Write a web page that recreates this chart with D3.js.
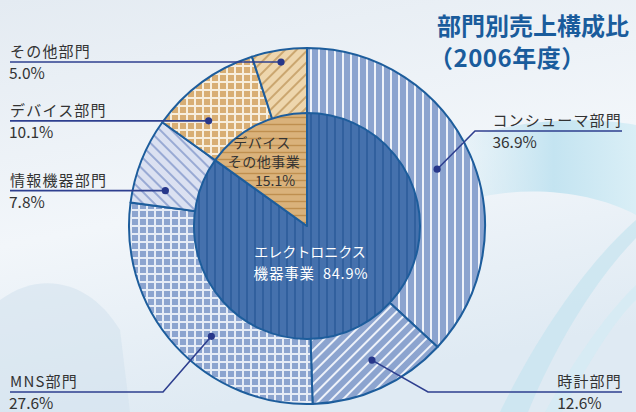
<!DOCTYPE html>
<html>
<head>
<meta charset="utf-8">
<script src="https://cdn.jsdelivr.net/npm/d3@7"></script>
<style>
  body { margin: 0; background: #eef3f8; }
  svg { display: block; font-family: "Noto Sans CJK JP", "Noto Sans", sans-serif; }
</style>
</head>
<body>
<script>
// 部門別売上構成比 (2006年度)

var innerNames = ["エレクトロニクス機器事業", "デバイスその他事業"];
var innerValues = [84.9, 15.1];

var outerNames = ["コンシューマ部門", "時計部門", "MNS部門", "情報機器部門", "デバイス部門", "その他部門"];
var outerValues = [36.9, 12.6, 27.6, 7.8, 10.1, 5.0];

var width = 636, height = 412;
var cx = 307, cy = 226, rIn = 113, rOut = 178;

var svg = d3.select("body").append("svg")
  .attr("width", width)
  .attr("height", height);

var defs = svg.append("defs");

// background
var bg = defs.append("linearGradient").attr("id", "bg")
  .attr("x1", 0).attr("y1", 0).attr("x2", 0.3).attr("y2", 1);
bg.append("stop").attr("offset", "0%").attr("stop-color", "#e4ebf2");
bg.append("stop").attr("offset", "55%").attr("stop-color", "#f2f6fa");
bg.append("stop").attr("offset", "100%").attr("stop-color", "#dfeaf3");
svg.append("rect").attr("width", width).attr("height", height).attr("fill", "url(#bg)");

var sw = defs.append("linearGradient").attr("id", "sw")
  .attr("x1", 0).attr("y1", 0).attr("x2", 1).attr("y2", 0);
sw.append("stop").attr("offset", "0%").attr("stop-color", "#cfeaf4").attr("stop-opacity", 0);
sw.append("stop").attr("offset", "60%").attr("stop-color", "#bfe2f0");
sw.append("stop").attr("offset", "100%").attr("stop-color", "#d7eef6");
svg.append("path")
  .attr("d", "M430,150 C500,120 580,115 636,125 L636,215 C590,190 520,185 470,200 Z")
  .attr("fill", "url(#sw)").attr("opacity", 0.9);
svg.append("path")
  .attr("d", "M500,412 C540,330 590,260 636,220 L636,238 C600,275 560,335 528,412 Z")
  .attr("fill", "#c6e4f0").attr("opacity", 0.7);
svg.append("path")
  .attr("d", "M545,412 C580,350 610,310 636,285 L636,300 C615,320 590,360 562,412 Z")
  .attr("fill", "#d3ebf4").attr("opacity", 0.7);
svg.append("path")
  .attr("d", "M0,300 C40,270 90,280 120,330 L130,412 L0,412 Z")
  .attr("fill", "#d4e3ef").attr("opacity", 0.6);

// hatch patterns
function stripes(id, base, line, lw, angle, gap) {
  var p = defs.append("pattern").attr("id", id)
    .attr("patternUnits", "userSpaceOnUse")
    .attr("width", gap).attr("height", gap)
    .attr("patternTransform", "rotate(" + angle + ")");
  p.append("rect").attr("width", gap).attr("height", gap).attr("fill", base);
  p.append("line").attr("x1", gap / 2).attr("y1", 0).attr("x2", gap / 2).attr("y2", gap)
    .attr("stroke", line).attr("stroke-width", lw);
}
function grid(id, base, line, lw, gap) {
  var p = defs.append("pattern").attr("id", id)
    .attr("patternUnits", "userSpaceOnUse")
    .attr("width", gap).attr("height", gap);
  p.append("rect").attr("width", gap).attr("height", gap).attr("fill", line);
  p.append("rect").attr("x", lw / 2).attr("y", lw / 2)
    .attr("width", gap - lw).attr("height", gap - lw).attr("fill", base);
}

stripes("pElec", "#4571ad", "#2c5c9a", 1.6, 0, 8);
stripes("pDev", "#dab27b", "#bf8f4f", 1.4, 90, 7);
stripes("pCons", "#8ca4cf", "#eef2f9", 2, 0, 8);
stripes("pWatch", "#8ca4cf", "#eef2f9", 2, 45, 8);
grid("pMns", "#8ca4cf", "#e6ecf6", 2, 8);
stripes("pInfo", "#dbe1f1", "#7d93c8", 1.4, -45, 8);
grid("pDevO", "#d8ae74", "#f7eedd", 2, 8);
stripes("pOther", "#eed6ad", "#b98d4f", 1.3, 45, 8);

var innerFill = ["url(#pElec)", "url(#pDev)"];
var outerFill = ["url(#pCons)", "url(#pWatch)", "url(#pMns)", "url(#pInfo)", "url(#pDevO)", "url(#pOther)"];

var pie = d3.pie().sort(null).value(function(d) { return d; });
var outerArcs = pie(outerValues);
var innerArcs = pie(innerValues);

var g = svg.append("g").attr("transform", "translate(" + cx + "," + cy + ")");

var arcOut = d3.arc().innerRadius(0).outerRadius(rOut);
var arcIn = d3.arc().innerRadius(0).outerRadius(rIn);

g.selectAll("path.outer").data(outerArcs).enter().append("path")
  .attr("class", "outer")
  .attr("d", arcOut)
  .attr("fill", function(d, i) { return outerFill[i]; })
  .attr("stroke", "#1d5d9c").attr("stroke-width", 2).attr("stroke-linejoin", "round");

g.selectAll("path.inner").data(innerArcs).enter().append("path")
  .attr("class", "inner")
  .attr("d", arcIn)
  .attr("fill", function(d, i) { return innerFill[i]; })
  .attr("stroke", "#1d5d9c").attr("stroke-width", 2).attr("stroke-linejoin", "round");

// inner labels
var innerText = g.append("g").attr("font-size", 14).attr("text-anchor", "middle");
innerText.append("text").attr("x", 3).attr("y", 31).attr("fill", "#fff")
  .text("エレクトロニクス");
innerText.append("text").attr("x", 4).attr("y", 53).attr("fill", "#fff")
  .attr("font-size", 14.5).attr("letter-spacing", 0.8).attr("xml:space", "preserve")
  .text("機器事業  " + innerValues[0] + "%");
innerText.append("text").attr("x", -45).attr("y", -78).attr("fill", "#333").attr("letter-spacing", 0.5)
  .text("デバイス");
innerText.append("text").attr("x", -43).attr("y", -59).attr("fill", "#333").attr("letter-spacing", 0.5)
  .text("その他事業");
innerText.append("text").attr("x", -32).attr("y", -40).attr("fill", "#333")
  .text(innerValues[1].toFixed(1) + "%");

// leader labels: where along the slice the dot sits, its radius, and the label line
var labelLayout = [
  { t: 0.50, r: 142, side: "right", lineY: 131, elbowX: 475 },
  { t: 0.47, r: 149, side: "right", lineY: 392, elbowX: 428 },
  { t: 0.43, r: 146, side: "left",  lineY: 392, elbowX: 163 },
  { t: 0.23, r: 146, side: "left",  lineY: null },
  { t: 0.31, r: 144, side: "left",  lineY: null },
  { t: 0.50, r: 166, side: "left",  lineY: null }
];

var leaders = svg.append("g");
outerArcs.forEach(function(a, i) {
  var L = labelLayout[i];
  var ang = a.startAngle + (a.endAngle - a.startAngle) * L.t;
  var dx = cx + L.r * Math.sin(ang), dy = cy - L.r * Math.cos(ang);
  var lineY = L.lineY === null ? dy : L.lineY;
  var pts;
  if (L.side === "left") {
    pts = L.lineY === null ? [[10, lineY], [dx, dy]] : [[10, lineY], [L.elbowX, lineY], [dx, dy]];
  } else {
    pts = [[622, lineY], [L.elbowX, lineY], [dx, dy]];
  }
  leaders.append("path")
    .attr("d", d3.line()(pts))
    .attr("fill", "none").attr("stroke", "#2e3f8f").attr("stroke-width", 1.6);
  leaders.append("circle").attr("cx", dx).attr("cy", dy).attr("r", 3.6).attr("fill", "#27378a");

  var name = leaders.append("text")
    .attr("y", lineY - 5)
    .attr("font-size", 15).attr("letter-spacing", 1.2).attr("fill", "#333")
    .text(outerNames[i]);
  var pct = leaders.append("text")
    .attr("y", lineY + 17)
    .attr("font-size", 15.5).attr("fill", "#333")
    .text(outerValues[i].toFixed(1) + "%");
  if (L.side === "left") {
    name.attr("x", 10);
    pct.attr("x", 9);
  } else {
    name.attr("x", 622).attr("text-anchor", "end");
    var w = name.node().getComputedTextLength();
    pct.attr("x", 622 - w);
  }
});

// title
var title = svg.append("g").attr("fill", "#1a5c9c").attr("font-weight", "bold").attr("font-size", 24);
title.append("text").attr("x", 437).attr("y", 35).text("部門別売上構成比");
title.append("text").attr("x", 429).attr("y", 67).attr("letter-spacing", 0.5).text("（2006年度）");
</script>
</body>
</html>
